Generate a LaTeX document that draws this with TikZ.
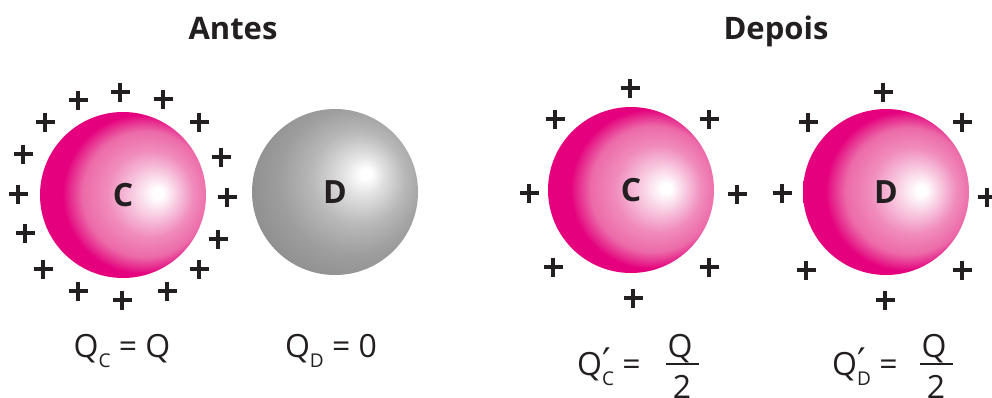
\documentclass[tikz,border=0pt]{standalone}
\usepackage{fontspec}
\setmainfont{Open Sans}
\newfontfamily\primefont{DejaVu Sans}
\definecolor{ink}{HTML}{231F20}
\definecolor{mag}{HTML}{E5007D}
\definecolor{pkA}{HTML}{F9D2E5}
\definecolor{pkB}{HTML}{F08CBC}
\definecolor{pkC}{HTML}{EC6AA8}
\definecolor{pkD}{HTML}{E6228A}
\definecolor{gyA}{HTML}{E2E2E2}
\definecolor{gyB}{HTML}{B8B8B8}
\definecolor{gyC}{HTML}{9E9E9E}
\definecolor{gyD}{HTML}{8F8F8F}
\definecolor{gyE}{HTML}{888888}
\pgfdeclareradialshading{pinkshade}{\pgfpoint{11bp}{0.5bp}}{color(0bp)=(white); color(1.5bp)=(white); color(6bp)=(pkA); color(13bp)=(pkB); color(19bp)=(pkC); color(22.5bp)=(pkD); color(24bp)=(mag); color(50bp)=(mag)}
\pgfdeclareradialshading{grayshade}{\pgfpoint{9.6bp}{5.7bp}}{color(0bp)=(white); color(1.5bp)=(white); color(6bp)=(gyA); color(14bp)=(gyB); color(22bp)=(gyC); color(30bp)=(gyD); color(50bp)=(gyE)}
\newcommand\sbs[1]{\raisebox{-10pt}{\fontsize{19}{19}\selectfont #1}}
\newcommand\prsbs[1]{\rlap{\raisebox{0pt}{\primefont\fontsize{38}{38}\selectfont ′}}\sbs{#1}}
\tikzset{
  ball/.style={circle, minimum size=166pt, inner sep=0pt, shade, text=ink, font=\fontsize{32}{32}\selectfont\bfseries},
  pinkball/.style={ball, shading=pinkshade},
  grayball/.style={ball, shading=grayshade},
  title/.style={text=ink, font=\fontsize{31}{31}\selectfont\bfseries, inner sep=0pt, anchor=base},
  lbl/.style={text=ink, font=\fontsize{32}{32}\selectfont, inner sep=0pt},
  fracbar/.style={draw=ink, line width=2pt},
  plus/.pic={\draw[ink, line width=3.2pt] (-9.5,0) -- (9.5,0) (0,-9.5) -- (0,9.5);}
}
\begin{document}
\begin{tikzpicture}[x=1pt, y=-1pt]
\useasboundingbox (0,0) rectangle (992,397);
\node[title] (antes) at (233,39) {Antes};
\node[title] (depois) at (776,39) {Depois};
\node[pinkball] (C1) at (123,195) {C};
\node[grayball] (D1) at (335,192) {D};
\node[pinkball] (C2) at (631,190) {C};
\node[pinkball] (D2) at (886,192) {D};
\foreach \x/\y in {120/92, 78/100, 163/99, 45/122, 199/122, 23/154, 221/157, 18/194, 227/197, 25/233, 218/239, 43/269, 199/269, 78/291, 167/291, 122/300}
  \pic at (\x,\y) {plus};
\foreach \x/\y in {630/88, 555/119, 709/119, 529/193, 737/194, 553/267, 709/267, 633/298}
  \pic at (\x,\y) {plus};
\foreach \x/\y in {883/92, 808/122, 962/122, 782/193, 987/197, 806/270, 962/270, 885/300}
  \pic at (\x,\y) {plus};
\node[lbl, anchor=base] (qc) at (122,357) {Q\sbs{C} = Q};
\node[lbl, anchor=base] (qd) at (331,357) {Q\sbs{D} = 0};
\node[lbl, anchor=base west] (qc2) at (577,375) {Q\prsbs{C} =};
\node[lbl, anchor=base] (nc) at (680,357) {Q};
\node[lbl, anchor=base] (dc) at (682,398) {2};
\draw[fracbar] (666,364) -- (699,364);
\node[lbl, anchor=base west] (qd2) at (832,375) {Q\prsbs{D} =};
\node[lbl, anchor=base] (nd) at (934,357) {Q};
\node[lbl, anchor=base] (dd) at (936,398) {2};
\draw[fracbar] (920,364) -- (953,364);
\end{tikzpicture}
\end{document}
